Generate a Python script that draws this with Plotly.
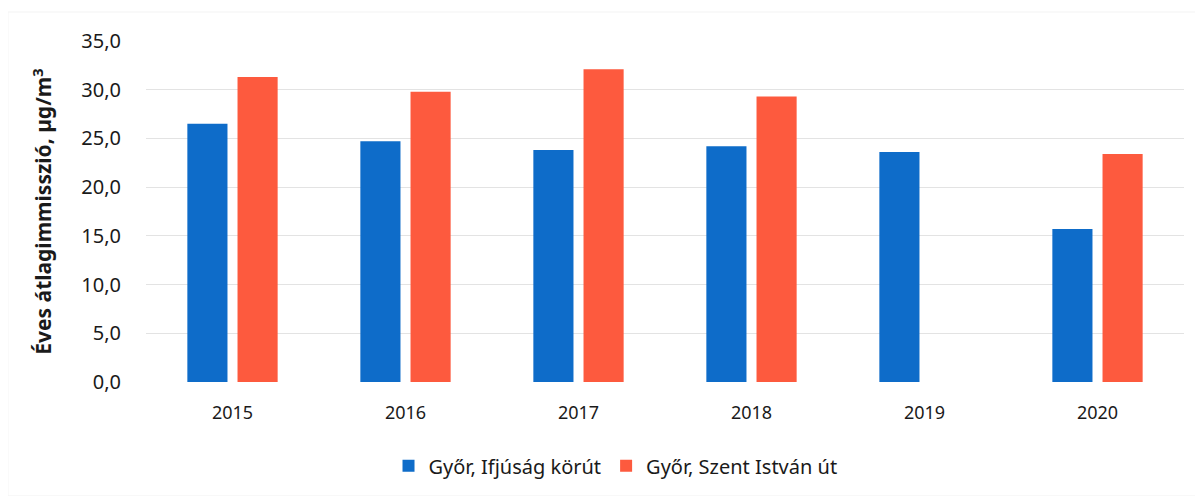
import plotly.graph_objects as go

years = ["2015", "2016", "2017", "2018", "2019", "2020"]
ifjusag = [26.5, 24.7, 23.8, 24.2, 23.6, 15.7]
szent_istvan = [31.3, 29.8, 32.1, 29.3, None, 23.4]
series_names = ["Győr, Ifjúság körút", "Győr, Szent István út"]
y_ticks = [0, 5, 10, 15, 20, 25, 30, 35]

BLUE = "#0e6cc9"
RED = "#fd5a3e"
FONT = "Noto Sans, Open Sans, sans-serif"

fig = go.Figure()
fig.add_trace(go.Bar(x=years, y=ifjusag, name=series_names[0], marker=dict(color=BLUE, line=dict(width=0))))
fig.add_trace(go.Bar(x=years, y=szent_istvan, name=series_names[1], marker=dict(color=RED, line=dict(width=0))))

fig.update_layout(
    width=1203, height=496,
    margin=dict(l=138, r=27, t=33, b=122, autoexpand=False),
    paper_bgcolor="white", plot_bgcolor="white",
    separators=", ",
    barmode="group", bargap=0.42, bargroupgap=0.2,
    font=dict(family=FONT, color="#1a1a1a"),
    showlegend=True,
    legend=dict(orientation="h", xref="container", yref="container", x=0.505, y=0.077,
                xanchor="center", yanchor="middle", font=dict(size=20, color="#1a1a1a"),
                itemwidth=30, traceorder="normal"),
    xaxis=dict(showgrid=False, showline=False, ticks="", tickfont=dict(size=18),
               ticklabelstandoff=18),
    yaxis=dict(range=[0, 35], tickvals=y_ticks, tickformat=".1f", showgrid=True,
               gridcolor="#e3e3e3", gridwidth=1, zeroline=False, showline=False,
               tickfont=dict(size=20), ticklabelstandoff=24,
               title=dict(text="<b>Éves átlagimmisszió, µg/m<sup>3</sup></b>",
                          font=dict(size=21), standoff=23)),
)
fig.add_shape(type="rect", xref="paper", yref="paper", x0=-0.133, x1=1.0135, y0=-0.334, y1=1.085,
              line=dict(color="#f3f3f3", width=1), layer="below")

fig.write_html("out.html")
